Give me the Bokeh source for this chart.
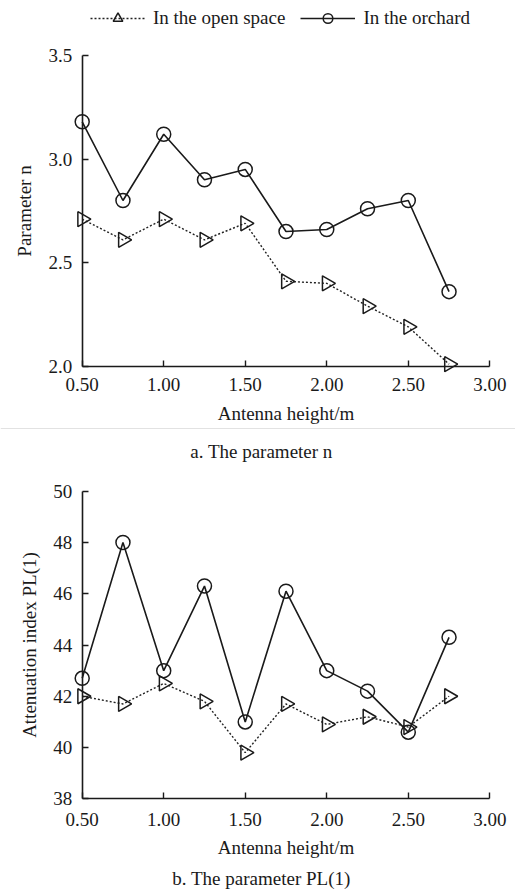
import numpy as np
from bokeh.plotting import figure
from bokeh.models import (Range1d, LinearAxis, FixedTicker, NumeralTickFormatter,
                          Legend, LegendItem, Label, Span)
from bokeh.layouts import column
from bokeh.embed import file_html
from bokeh.resources import INLINE

# ---- data ----
heights = [0.50, 0.75, 1.00, 1.25, 1.50, 1.75, 2.00, 2.25, 2.50, 2.75]
n_open = [2.71, 2.61, 2.71, 2.61, 2.69, 2.41, 2.40, 2.29, 2.19, 2.01]
n_orchard = [3.18, 2.80, 3.12, 2.90, 2.95, 2.65, 2.66, 2.76, 2.80, 2.36]
pl_open = [42.0, 41.7, 42.5, 41.8, 39.8, 41.7, 40.9, 41.2, 40.8, 42.0]
pl_orchard = [42.7, 48.0, 43.0, 46.3, 41.0, 46.1, 43.0, 42.2, 40.6, 44.3]
x_ticks = [0.5, 1.0, 1.5, 2.0, 2.5, 3.0]
n_ticks = [2.0, 2.5, 3.0, 3.5]
pl_ticks = [38, 40, 42, 44, 46, 48, 50]
series_labels = ["In the open space", "In the orchard"]
x_label = "Antenna height/m"
n_label = "Parameter n"
pl_label = "Attenuation index PL(1)"
caption_a = "a. The parameter n"
caption_b = "b. The parameter PL(1)"

FONT = "Liberation Serif"
FS = "19px"
INK = "#1a1a1a"
W = 515
X_AXIS = (0.5, 3.0)
X0_PX, X1_PX = 81.7, 489.3          # where 0.5 and 3.0 sit horizontally (canvas px)


def style_axis(ax, fmt, tick_standoff, label_standoff):
    ax.formatter = NumeralTickFormatter(format=fmt)
    ax.axis_line_color = INK
    ax.axis_line_width = 1.6
    ax.major_tick_line_color = INK
    ax.major_tick_line_width = 1.4
    ax.major_tick_in = 6
    ax.major_tick_out = 0
    ax.minor_tick_line_color = None
    ax.major_label_text_font = FONT
    ax.major_label_text_font_size = FS
    ax.major_label_text_color = INK
    ax.major_label_standoff = tick_standoff
    ax.axis_label_text_font = FONT
    ax.axis_label_text_font_size = FS
    ax.axis_label_text_font_style = "normal"
    ax.axis_label_text_color = INK
    ax.axis_label_standoff = label_standoff


def make_plot(height, ybounds, y_px, yticks, yfmt, ylab, ys_open, ys_orch, x_stand):
    # frame covers the whole canvas; ranges chosen so axis ends land on the given pixels
    sx = (X1_PX - X0_PX) / (X_AXIS[1] - X_AXIS[0])
    xr = Range1d(X_AXIS[0] - X0_PX / sx, X_AXIS[0] + (W - X0_PX) / sx)
    top_px, bot_px = y_px
    sy = (bot_px - top_px) / (ybounds[1] - ybounds[0])
    yr = Range1d(ybounds[0] - (height - bot_px) / sy, ybounds[1] + top_px / sy)
    p = figure(width=W, height=height, x_range=xr, y_range=yr,
               output_backend="svg", toolbar_location=None,
               x_axis_location=None, y_axis_location=None,
               min_border=0, outline_line_color=None)
    p.grid.visible = False
    xa = LinearAxis(fixed_location=ybounds[0], bounds=X_AXIS,
                    ticker=FixedTicker(ticks=x_ticks), axis_label=x_label)
    style_axis(xa, "0.00", x_stand, 8)
    p.add_layout(xa, "below")
    ya = LinearAxis(fixed_location=X_AXIS[0], bounds=ybounds,
                    ticker=FixedTicker(ticks=yticks), axis_label=ylab)
    style_axis(ya, yfmt, 10, 11)
    p.add_layout(ya, "left")

    l1 = p.line(heights, ys_open, line_color="#222222", line_width=1.4, line_dash="2 2")
    s1 = p.scatter(heights, ys_open, marker="triangle", size=15, angle=-np.pi / 2,
                   fill_color=None, line_color=INK, line_width=1.5)
    l2 = p.line(heights, ys_orch, line_color=INK, line_width=1.6)
    s2 = p.scatter(heights, ys_orch, marker="circle", size=14,
                   fill_color=None, line_color=INK, line_width=1.5)
    return p, (l1, s1), (l2, s2), (yr, sy, bot_px)


H_A = 429
fig_a, ra1, ra2, (yr_a, sy_a, bot_a) = make_plot(
    H_A, (2.0, 3.5), (55.0, 365.7), n_ticks, "0.0", n_label, n_open, n_orchard, 12)
legend = Legend(items=[LegendItem(label=series_labels[0], renderers=list(ra1)),
                       LegendItem(label=series_labels[1], renderers=list(ra2))],
                orientation="horizontal", location=(90, H_A - 18 - 12),
                glyph_width=55, glyph_height=24, label_height=24,
                label_standoff=8, spacing=15, padding=0, margin=0,
                border_line_color=None, background_fill_alpha=0,
                label_text_font=FONT, label_text_font_size=FS, label_text_color=INK)
fig_a.add_layout(legend, "center")
# thin grey rule along the bottom pixel row of the upper panel
sep_y = 2.0 - (H_A - 0.5 - bot_a) / sy_a
fig_a.add_layout(Span(location=sep_y, dimension="width", line_color="#c4c4c4",
                      line_width=1))

H_B = 465
fig_b, rb1, rb2, _ = make_plot(
    H_B, (38, 50), (61.7, 369.3), pl_ticks, "0", pl_label, pl_open, pl_orchard, 14)
for txt, cy in ((caption_a, 22), (caption_b, 449)):
    fig_b.add_layout(Label(x=261, y=H_B - cy, x_units="screen", y_units="screen",
                           text=txt, text_align="center", text_baseline="middle",
                           text_font=FONT, text_font_size=FS, text_color=INK))

layout = column(fig_a, fig_b, spacing=0)
open("out.html", "w").write(file_html(layout, INLINE))
